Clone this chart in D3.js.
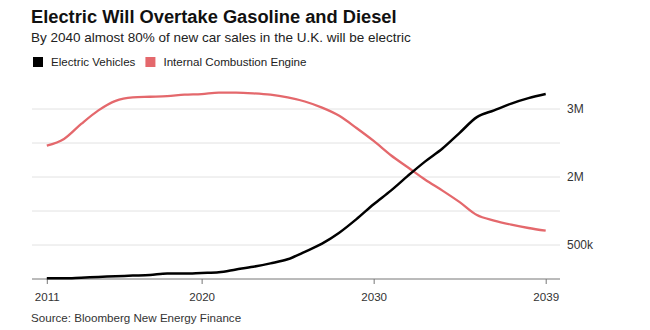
<!DOCTYPE html>
<html><head><meta charset="utf-8">
<script src="https://cdn.jsdelivr.net/npm/d3@7"></script>
<style>
body{margin:0;background:#fff;font-family:"Liberation Sans",Arial,Helvetica,sans-serif;}
</style></head>
<body><svg id="c" width="650" height="330"></svg>
<script>
const years = d3.range(2011, 2041);
const evSales = [0.01,0.01,0.02,0.03,0.04,0.05,0.06,0.08,0.08,0.09,0.10,0.14,0.18,0.23,0.29,0.40,0.52,0.68,0.88,1.10,1.30,1.52,1.73,1.92,2.15,2.38,2.48,2.58,2.66,2.72];
const iceSales = [1.96,2.06,2.28,2.48,2.62,2.67,2.68,2.69,2.71,2.72,2.74,2.74,2.73,2.71,2.67,2.61,2.52,2.40,2.22,2.03,1.82,1.64,1.46,1.30,1.13,0.94,0.86,0.80,0.75,0.71];
const xTickValues = [2011, 2020, 2030, 2040];
const xTickLabels = ["2011", "2020", "2030", "2039"];
const yGridValues = [0.5, 1.0, 1.5, 2.0, 2.5];
const yTickLabels = ["500k", "", "2M", "", "3M"];
const seriesNames = ["Electric Vehicles", "Internal Combustion Engine"];
const seriesColors = ["#000000", "#e4686c"];

const svg = d3.select("#c");
const x = d3.scaleLinear().domain([2011, 2040]).range([46.8, 545.7]);
const y = d3.scaleLinear().domain([0, 2.5]).range([279, 109]);

svg.append("text").attr("x", 31).attr("y", 23).attr("font-size", 18.3).attr("font-weight", "bold").attr("fill", "#111")
  .text("Electric Will Overtake Gasoline and Diesel");
svg.append("text").attr("x", 31).attr("y", 41.5).attr("font-size", 13.5).attr("fill", "#222")
  .text("By 2040 almost 80% of new car sales in the U.K. will be electric");

const lg = svg.append("g");
let lx = 33;
seriesNames.forEach((n, i) => {
  lg.append("rect").attr("x", lx).attr("y", 57).attr("width", 10).attr("height", 10).attr("fill", seriesColors[i]);
  const t = lg.append("text").attr("x", lx + 18).attr("y", 66).attr("font-size", 11.6).attr("fill", "#222").text(n);
  lx += 18 + t.node().getComputedTextLength() + 10;
});

svg.append("g").selectAll("line").data(yGridValues).join("line")
  .attr("x1", 32).attr("x2", 560).attr("y1", d => y(d)).attr("y2", d => y(d))
  .attr("stroke", "#e2e2e2").attr("stroke-width", 1);
svg.append("g").selectAll("text").data(yGridValues).join("text")
  .attr("x", 567).attr("y", d => y(d) + 4).attr("font-size", 12).attr("fill", "#333")
  .text((d, i) => yTickLabels[i]);

const xAxis = d3.axisBottom(x).tickValues(xTickValues).tickSize(5).tickSizeOuter(0)
  .tickFormat((d, i) => xTickLabels[i]);
const gx = svg.append("g").attr("transform", "translate(0,279)").call(xAxis);
gx.select(".domain").remove();
gx.append("line").attr("x1", 32).attr("x2", 560).attr("stroke", "#777").attr("stroke-width", 1);
gx.selectAll(".tick line").attr("stroke", "#777");
gx.selectAll(".tick text").attr("font-size", 11.6).attr("fill", "#333").attr("dy", "1.2em")
  .attr("font-family", "Liberation Sans, Arial, sans-serif");

const line = d3.line().x((d, i) => x(years[i])).y(d => y(d)).curve(d3.curveMonotoneX);
svg.append("path").datum(iceSales).attr("d", line).attr("fill", "none").attr("stroke", seriesColors[1]).attr("stroke-width", 2.3);
svg.append("path").datum(evSales).attr("d", line).attr("fill", "none").attr("stroke", seriesColors[0]).attr("stroke-width", 2.5);

svg.append("text").attr("x", 31).attr("y", 322).attr("font-size", 11.6).attr("fill", "#333")
  .text("Source: Bloomberg New Energy Finance");
</script></body></html>
